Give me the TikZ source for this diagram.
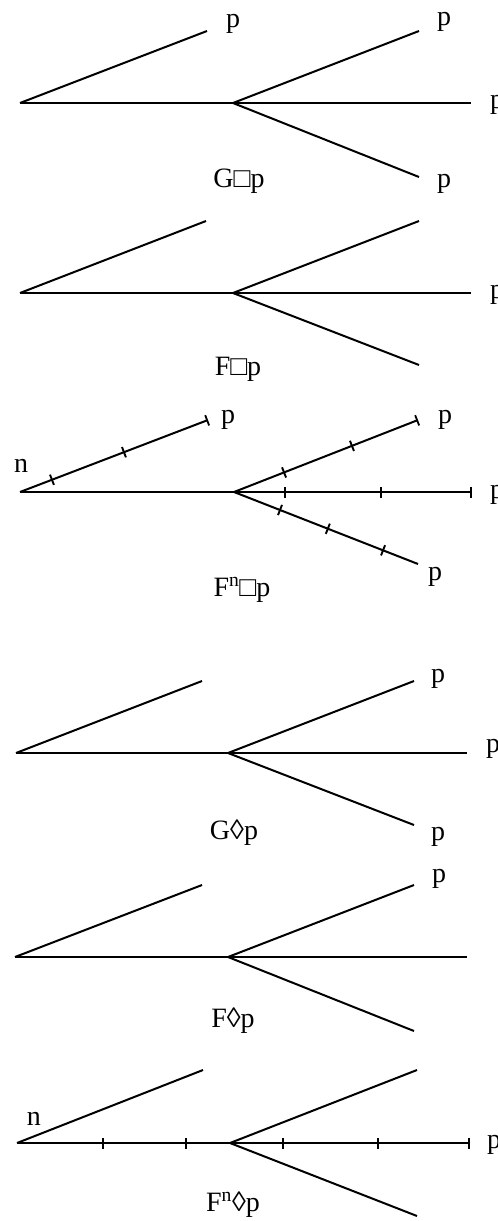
\documentclass[tikz,border=0pt]{standalone}
\usepackage{fontspec}
\setmainfont{Liberation Serif}
\usetikzlibrary{arrows.meta}
\begin{document}
\begin{tikzpicture}[x=1pt,y=-1pt,
  ln/.style={line width=2pt},
  endbar/.style={ln,-{Bar[width=11pt,line width=1.8pt]}},
  tk/.style={sloped,fill=black,draw=none,inner sep=0pt,minimum width=1.9pt,minimum height=11pt,rectangle},
  lbl/.style={anchor=base,inner sep=0pt,font=\fontsize{28}{32}\selectfont}]
\useasboundingbox (0,0) rectangle (498,1221);
% ---------- panel 1: G box p
\coordinate (r1) at (20,103); \coordinate (b1) at (233,103);
\coordinate (u1) at (207,31); \coordinate (v1) at (419,31);
\coordinate (h1) at (471,103); \coordinate (w1) at (419,177);
\draw[ln] (r1) -- (u1); \draw[ln] (r1) -- (b1); \draw[ln] (b1) -- (v1);
\draw[ln] (b1) -- (h1); \draw[ln] (b1) -- (w1);
\node[lbl] (p1a) at (233,27) {p};
\node[lbl] (p1b) at (444,25) {p};
\node[lbl] (p1c) at (497,108) {p};
\node[lbl] (p1d) at (444,187) {p};
\node[lbl] (t1) at (239,187) {G□p};
% ---------- panel 2: F box p
\coordinate (r2) at (20,293); \coordinate (b2) at (233,293);
\coordinate (u2) at (206,221); \coordinate (v2) at (419,221);
\coordinate (h2) at (471,293); \coordinate (w2) at (419,365);
\draw[ln] (r2) -- (u2); \draw[ln] (r2) -- (b2); \draw[ln] (b2) -- (v2);
\draw[ln] (b2) -- (h2); \draw[ln] (b2) -- (w2);
\node[lbl] (p2c) at (497,298) {p};
\node[lbl] (t2) at (238,375) {F□p};
% ---------- panel 3: F^n box p
\coordinate (r3) at (20,492); \coordinate (b3) at (234,492);
\coordinate (u3) at (208,420); \coordinate (v3) at (418,420);
\coordinate (h3) at (472,492); \coordinate (w3) at (418,564);
\draw[endbar] (r3) -- node[tk,pos=0.17]{} node[tk,pos=0.553]{} (u3);
\draw[ln] (r3) -- (b3);
\draw[endbar] (b3) -- node[tk,pos=0.272]{} node[tk,pos=0.641]{} (v3);
\draw[endbar] (b3) -- node[tk,pos=0.214]{} node[tk,pos=0.618]{} (h3);
\draw[ln] (b3) -- node[tk,pos=0.25]{} node[tk,pos=0.51]{} node[tk,pos=0.81]{} (w3);
\node[lbl] (n3) at (21,472) {n};
\node[lbl] (p3a) at (228,423) {p};
\node[lbl] (p3b) at (445,423) {p};
\node[lbl] (p3c) at (497,498) {p};
\node[lbl] (p3d) at (435,580) {p};
\node[lbl] (t3) at (242,596) {F\textsuperscript{n}□p};
% ---------- panel 4: G diamond p
\coordinate (r4) at (16,753); \coordinate (b4) at (228,753);
\coordinate (u4) at (202,681); \coordinate (v4) at (414,681);
\coordinate (h4) at (467,753); \coordinate (w4) at (414,825);
\draw[ln] (r4) -- (u4); \draw[ln] (r4) -- (b4); \draw[ln] (b4) -- (v4);
\draw[ln] (b4) -- (h4); \draw[ln] (b4) -- (w4);
\node[lbl] (p4b) at (438,682) {p};
\node[lbl] (p4c) at (493,752) {p};
\node[lbl] (p4d) at (438,840) {p};
\node[lbl] (t4) at (234,839) {G◊p};
% ---------- panel 5: F diamond p
\coordinate (r5) at (15,957); \coordinate (b5) at (228,957);
\coordinate (u5) at (202,885); \coordinate (v5) at (414,885);
\coordinate (h5) at (467,957); \coordinate (w5) at (414,1031);
\draw[ln] (r5) -- (u5); \draw[ln] (r5) -- (b5); \draw[ln] (b5) -- (v5);
\draw[ln] (b5) -- (h5); \draw[ln] (b5) -- (w5);
\node[lbl] (p5b) at (439,882) {p};
\node[lbl] (t5) at (233,1027) {F◊p};
% ---------- panel 6: F^n diamond p
\coordinate (r6) at (17,1143); \coordinate (b6) at (230,1143);
\coordinate (u6) at (203,1070); \coordinate (v6) at (417,1070);
\coordinate (h6) at (470,1143); \coordinate (w6) at (417,1216);
\draw[ln] (r6) -- (u6);
\draw[ln] (r6) -- node[tk,pos=0.404]{} node[tk,pos=0.793]{} (b6);
\draw[ln] (b6) -- (v6);
\draw[endbar] (b6) -- node[tk,pos=0.221]{} node[tk,pos=0.617]{} (h6);
\draw[ln] (b6) -- (w6);
\node[lbl] (n6) at (34,1125) {n};
\node[lbl] (p6c) at (494,1148) {p};
\node[lbl] (t6) at (233,1211) {F\textsuperscript{n}◊p};
\end{tikzpicture}
\end{document}
